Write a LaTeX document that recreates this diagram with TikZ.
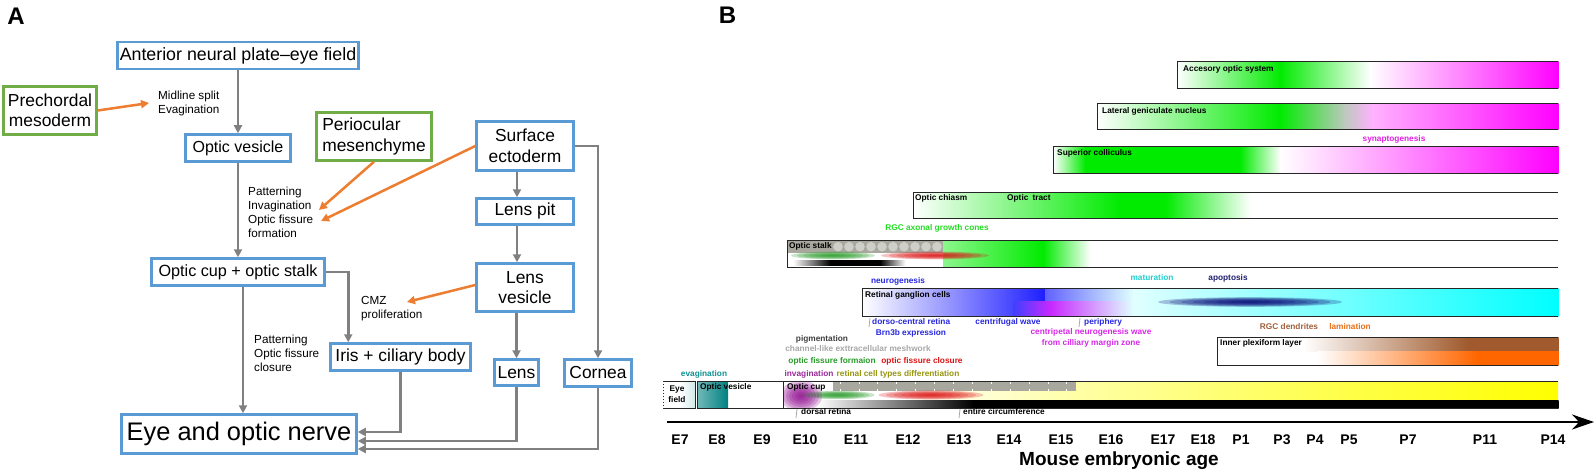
\documentclass[tikz,border=0pt]{standalone}
\usepackage{fontspec}
\setmainfont{Liberation Sans}
\usetikzlibrary{arrows.meta, positioning}

\definecolor{boxblue}{RGB}{91,155,213}
\definecolor{boxgreen}{RGB}{112,173,71}
\definecolor{linkgray}{RGB}{128,128,128}
\definecolor{linkorange}{RGB}{237,125,49}
\definecolor{vgreen}{RGB}{0,235,0}
\definecolor{vmag}{RGB}{255,0,255}
\definecolor{vblue}{RGB}{30,30,255}
\definecolor{vcyan}{RGB}{0,255,255}
\definecolor{vviolet}{RGB}{200,40,255}
\definecolor{vnavy}{RGB}{10,10,120}
\definecolor{vbrown}{RGB}{160,90,45}
\definecolor{vorange}{RGB}{255,102,0}
\definecolor{vteal}{RGB}{0,128,128}
\definecolor{vpurple}{RGB}{140,0,140}
\definecolor{vred}{RGB}{220,20,20}
\definecolor{vdkgreen}{RGB}{40,155,40}
\definecolor{lgngray}{RGB}{190,200,190}
\definecolor{cellgray}{RGB}{168,168,158}
\definecolor{tgreen}{RGB}{34,221,34}
\definecolor{tmag}{RGB}{224,32,224}
\definecolor{tblue}{RGB}{40,40,224}
\definecolor{tpink}{RGB}{216,40,232}
\definecolor{tcyan}{RGB}{32,208,208}
\definecolor{tnavy}{RGB}{32,32,112}
\definecolor{tbrown}{RGB}{160,96,58}
\definecolor{torange}{RGB}{232,112,26}
\definecolor{tdkgray}{RGB}{64,64,64}
\definecolor{tltgray}{RGB}{168,168,168}
\definecolor{tolive}{RGB}{150,150,16}
\definecolor{tteal}{RGB}{16,144,144}
\definecolor{tpurple}{RGB}{154,42,154}

\begin{document}
\begin{tikzpicture}[
        x=1pt, y=-1pt,
        every node/.style={inner sep=0pt},
        stage/.style={rectangle, draw=boxblue, line width=2.5pt, fill=white, align=center, font=\fontsize{17.4}{20.5}\selectfont},
        tissue/.style={stage, draw=boxgreen},
        link/.style={draw=linkgray, line width=2.6pt, -{Triangle[length=8pt,width=8pt]}},
        signal/.style={draw=linkorange, line width=2.5pt, -{Triangle[length=8pt,width=8pt]}},
        note/.style={align=left, font=\fontsize{11.7}{14}\selectfont},
        panel/.style={font=\fontsize{24}{24}\selectfont\bfseries},
        bar/.style={draw=black!85, line width=1pt},
        tag/.style={font=\fontsize{8.3}{10.5}\selectfont\bfseries},
        age/.style={font=\fontsize{14}{14}\selectfont\bfseries}
    ]
        \useasboundingbox (0,0) rectangle (1594,473);
        \fill[white] (0,0) rectangle (1594,473);

        \node[panel] (panelA) at (16,16) {A};
        \node[stage, minimum width=241, minimum height=27, font=\fontsize{17.8}{21}\selectfont] (anp) at (238,55.5) {Anterior neural plate–eye field};
        \node[tissue, minimum width=93, minimum height=48] (pcm) at (50,110.5) {Prechordal\\mesoderm};
        \node[note, anchor=west] (split) at (158,103) {Midline split\\Evagination};
        \node[stage, minimum width=105, minimum height=27, font=\fontsize{16}{19}\selectfont] (ov) at (238,148) {Optic vesicle};
        \node[tissue, minimum width=115, minimum height=48, align=left] (pom) at (374,136.5) {Periocular\\mesenchyme};
        \node[stage, minimum width=97, minimum height=49] (se) at (525,146) {Surface\\ectoderm};
        \node[note, anchor=west] (cupnote) at (248,212) {Patterning\\Invagination\\Optic fissure\\formation};
        \node[stage, minimum width=97, minimum height=26] (pit) at (525,211.5) {Lens pit};
        \node[stage, minimum width=173, minimum height=27, font=\fontsize{16.2}{19}\selectfont] (cup) at (238,272) {Optic cup + optic stalk};
        \node[stage, minimum width=97, minimum height=48] (lv) at (525,287.5) {Lens\\vesicle};
        \node[note, anchor=west] (cmz) at (361,309) {CMZ\\proliferation};
        \node[note, anchor=west] (closenote) at (254,353) {Patterning\\Optic fissure\\closure};
        \node[stage, minimum width=140, minimum height=27] (iris) at (400.5,357) {Iris + ciliary body};
        \node[stage, minimum width=44, minimum height=26] (lens) at (516.5,372.5) {Lens};
        \node[stage, minimum width=67, minimum height=27] (cornea) at (598,373) {Cornea};
        \node[stage, minimum width=235, minimum height=39, font=\fontsize{25.4}{28}\selectfont] (eye) at (239,434) {Eye and optic nerve};
        \coordinate (invtip) at (319,210);
        \coordinate (fistip) at (321,221);
        \coordinate (cmztip) at (407,302);

        \draw[link] (anp) -- (ov);
        \draw[link] (ov) -- (cup);
        \draw[link] ([xshift=5pt]cup.south) -- ([xshift=5pt]cup.south |- eye.north);
        \draw[link] (cup.east) -| ([xshift=19pt]iris.north west);
        \draw[link] ([xshift=-8pt]se.south) -- ([xshift=-8pt]pit.north);
        \draw[link] ([xshift=-8pt]pit.south) -- ([xshift=-8pt]lv.north);
        \draw[link] (lens.north |- lv.south) -- (lens.north);
        \draw[link] (se.east) -| (cornea.north);
        \draw[link] (iris.south) |- ([yshift=2pt]eye.east);
        \draw[link] (lens.south) |- ([yshift=-7pt]eye.east);
        \draw[link] (cornea.south) |- ([yshift=-15pt]eye.east);
        \draw[signal] (pcm.east) -- ([xshift=-9pt]split.west);
        \draw[signal] (pom.south) -- (invtip);
        \draw[signal] (se.west) -- (fistip);
        \draw[signal] ([yshift=2.5pt]lv.west) -- (cmztip);

        \node[panel] (panelB) at (727.5,15) {B};

        \foreach \xa/\xb/\ca/\cb in {1177/1280/white/vgreen, 1280/1370/vgreen/white, 1370/1558/white/vmag}
            \shade[left color=\ca, right color=\cb] (\xa,62) rectangle (\xb+0.5,89);
        \draw[bar] (1558,62) -| (1177,89) -- (1558,89);
        \node[tag, anchor=west] (aos) at (1183,69) {Accesory optic system};

        \foreach \xa/\xb/\ca/\cb in {1097/1280/white/vgreen, 1280/1345/vgreen/lgngray, 1345/1372/lgngray/vmag!30, 1372/1558/vmag!30/vmag}
            \shade[left color=\ca, right color=\cb] (\xa,104) rectangle (\xb+0.5,130);
        \draw[bar] (1558,104) -| (1097,130) -- (1558,130);
        \node[tag, anchor=west] (lgn) at (1102,111) {Lateral geniculate nucleus};
        \node[tag, text=tmag] (synapse) at (1394,139) {synaptogenesis};

        \foreach \xa/\xb/\ca/\cb in {1053/1085/white/vgreen, 1085/1240/vgreen/vgreen, 1240/1280/vgreen/white, 1280/1558/white/vmag}
            \shade[left color=\ca, right color=\cb] (\xa,147) rectangle (\xb+0.5,174);
        \draw[bar] (1558,147) -| (1053,174) -- (1558,174);
        \node[tag, anchor=west] (sc) at (1057,153) {Superior colliculus};

        \foreach \xa/\xb/\ca/\cb in {913/1120/white/vgreen, 1120/1165/vgreen/vgreen, 1165/1250/vgreen/white}
            \shade[left color=\ca, right color=\cb] (\xa,192) rectangle (\xb+0.5,218);
        \draw[bar] (1558,192) -| (913,218) -- (1558,218);
        \node[tag, anchor=west] (chiasm) at (915,198) {Optic chiasm};
        \node[tag, anchor=west] (tract) at (1007,198) {Optic\enspace tract};
        \node[tag, text=tgreen] (cones) at (937,228) {RGC axonal growth cones};

        \fill[cellgray] (788,240.5) rectangle (943,253);
        \foreach \x in {838,849,...,938}
            \fill[cellgray!55!white] (\x,246.7) circle [radius=4.8pt];
        \foreach \xa/\xb/\ca/\cb in {943/1043/vgreen!45/vgreen, 1043/1090/vgreen/white}
            \shade[left color=\ca, right color=\cb] (\xa,240) rectangle (\xb+0.5,267);
        \foreach \xa/\xb/\ca/\cb in {793/830/white/black, 830/880/black/black, 880/905/black/white}
            \shade[left color=\ca, right color=\cb] (\xa,260) rectangle (\xb+0.5,265);
        \begin{scope}
            \clip (787,240) rectangle (1558,267);
            \foreach \k in {1,...,7} {
                \fill[vdkgreen, opacity=0.25] (833,255.5) ellipse [x radius=\k*6pt, y radius=\k*0.55pt];
                \fill[vred, opacity=0.25] (935,255.5) ellipse [x radius=\k*7.7pt, y radius=\k*0.55pt];
            }
        \end{scope}
        \draw[bar] (1558,240) -| (787,267) -- (1558,267);
        \node[tag, anchor=west] (stalk) at (789,246) {Optic stalk};

        \node[tag, text=tblue] (neuro) at (898,281) {neurogenesis};
        \node[tag, text=tcyan] (mature) at (1152,278) {maturation};
        \node[tag, text=tnavy] (apop) at (1228,278) {apoptosis};
        \foreach \xa/\xb/\ca/\cb in {862/1045/white/vblue, 1045/1133/vblue!70/vcyan!12, 1133/1558/vcyan!12/vcyan}
            \shade[left color=\ca, right color=\cb] (\xa,288) rectangle (\xb+0.5,316);
        \foreach \xa/\xb/\ca/\cb in {1013/1050/vblue!85/vviolet, 1050/1133/vviolet/vcyan!12}
            \shade[left color=\ca, right color=\cb] (\xa,301) rectangle (\xb+0.5,316);
        \begin{scope}
            \clip (862,288) rectangle (1558,316);
            \foreach \k in {1,...,8}
                \fill[vnavy, opacity=0.25] (1250,302) ellipse [x radius=\k*11.5pt, y radius=\k*0.6pt];
        \end{scope}
        \draw[bar] (1558,288) -| (862,316) -- (1558,316);
        \node[tag, anchor=west] (rgc) at (865,295) {Retinal ganglion cells};
        \draw[tltgray, line width=0.8pt] (870,318) -- (869,327);
        \node[tag, text=tblue, anchor=west] (dorso) at (872,322) {dorso-central retina};
        \node[tag, text=tblue] (brn) at (911,333) {Brn3b expression};
        \node[tag, text=tblue] (fugal) at (1008,322) {centrifugal wave};
        \draw[tltgray, line width=0.8pt] (1080,318) -- (1079,327);
        \node[tag, text=tblue, anchor=west] (periph) at (1084,322) {periphery};
        \node[tag, text=tpink, align=center] (petal) at (1091,338) {centripetal neurogenesis wave\\from cilliary margin zone};

        \node[tag, text=tbrown] (dendr) at (1289,327) {RGC dendrites};
        \node[tag, text=torange] (lamin) at (1350,327) {lamination};
        \foreach \xa/\xb/\ca/\cb in {1303/1467/white/vbrown, 1467/1558/vbrown/vbrown}
            \shade[left color=\ca, right color=\cb] (\xa,337) rectangle (\xb+0.5,351);
        \foreach \xa/\xb/\ca/\cb in {1317/1477/white/vorange, 1477/1558/vorange/vorange}
            \shade[left color=\ca, right color=\cb] (\xa,351) rectangle (\xb+0.5,365);
        \draw[bar] (1558,337) -| (1217,365) -- (1558,365);
        \node[tag, anchor=west] (ipl) at (1220,343) {Inner plexiform layer};

        \node[tag, text=tdkgray] (pigm) at (822,339) {pigmentation};
        \node[tag, text=tltgray] (mesh) at (858,349) {channel-like exttracellular meshwork};
        \node[tag, text=vdkgreen] (formn) at (832,361) {optic fissure formaion};
        \node[tag, text=vred] (closure) at (922,361) {optic fissure closure};
        \node[tag, text=tteal] (evag) at (704,374) {evagination};
        \node[tag, text=tpurple] (invag) at (809,374) {invagination};
        \node[tag, text=tolive] (differ) at (898,374) {retinal cell types differentiation};

        \shade[left color=white, right color=vteal!18] (680,381) rectangle (695,408);
        \draw[bar] (663,381) -- (695,381) -- (695,408) -- (663,408);
        \draw[bar, dotted] (663,381) -- (663,408);
        \node[tag, align=center] (field) at (677,394) {Eye\\field};

        \shade[left color=vteal!55, right color=vteal] (697,381) rectangle (728,408);
        \draw[bar] (697,381) rectangle (783,408);
        \node[tag, anchor=west] (vesicle) at (700,387) {Optic vesicle};

        \shade[left color=white, right color=yellow!35] (900,391) rectangle (1076.5,400);
        \shade[left color=yellow!35, right color=yellow] (1076,381) rectangle (1558,400);
        \fill[cellgray] (833,381.5) rectangle (1076,391);
        \foreach \x in {840,858.9,...,1068} {
            \draw[white, line width=0.8pt] (\x,381.5) -- (\x,384);
            \draw[white, line width=0.8pt] (\x,388.5) -- (\x,391);
        }
        \foreach \xa/\xb/\ca/\cb in {817/973/white/black, 973/1558/black/black}
            \shade[left color=\ca, right color=\cb] (\xa,400) rectangle (\xb+0.5,408);
        \begin{scope}
            \clip (783,381) rectangle (1558,408);
            \foreach \k in {1,...,7} {
                \fill[vdkgreen, opacity=0.25] (838,395) ellipse [x radius=\k*5.2pt, y radius=\k*0.6pt];
                \fill[vred, opacity=0.25] (931,395) ellipse [x radius=\k*7.5pt, y radius=\k*0.65pt];
                \fill[vpurple, opacity=0.22] (801,396) ellipse [x radius=\k*3pt, y radius=\k*2.2pt];
            }
        \end{scope}
        \draw[bar] (1558,381) -| (783,408) -- (1558,408);
        \node[tag, anchor=west] (cupbar) at (787,387) {Optic cup};
        \draw[tltgray, line width=0.8pt] (797,409) -- (796,418);
        \node[tag, anchor=west] (dorsal) at (801,411.5) {dorsal retina};
        \draw[tltgray, line width=0.8pt] (960,409) -- (959,418);
        \node[tag, anchor=west] (circum) at (963,412) {entire circumference};

        \coordinate (t0) at (667,422);
        \coordinate (t1) at (1594,422);
        \draw[line width=2.7pt, -{Stealth[length=22pt,width=15pt]}] (t0) -- (t1);
        \foreach \lab/\x in {E7/680, E8/717, E9/762, E10/805, E11/856, E12/908, E13/959, E14/1009, E15/1061, E16/1111, E17/1163, E18/1203, P1/1241, P3/1282, P4/1315, P5/1349, P7/1408, P11/1485, P14/1553}
            \node[age] (age-\lab) at (\x,440) {\lab};
        \node[font=\fontsize{19}{19}\selectfont\bfseries] (axislabel) at (1119,461) {Mouse embryonic age};
    \end{tikzpicture}
\end{document}
